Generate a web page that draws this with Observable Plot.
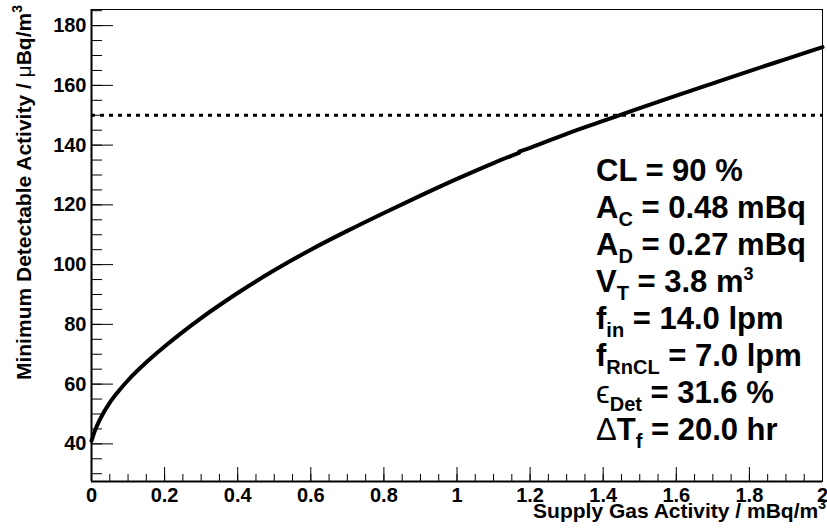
<!DOCTYPE html>
<html><head><meta charset="utf-8">
<script src="https://cdn.jsdelivr.net/npm/d3@7"></script>
<script src="https://cdn.jsdelivr.net/npm/@observablehq/plot@0.6"></script>
<style>
body{margin:0;background:#fff;overflow:hidden}
#chart svg{display:block}
svg{font-family:"Liberation Sans",Arial,Helvetica,sans-serif;font-weight:bold}
</style>
</head><body><div id="chart"></div>
<script>
// Curve data: supply gas activity (mBq/m^3) vs MDA (µBq/m^3)
const supplyActivity = [0, 0.01, 0.025, 0.05, 0.075, 0.1, 0.15, 0.2, 0.25, 0.3, 0.4, 0.5, 0.6, 0.7, 0.8, 0.9, 1.0, 1.1, 1.17,
                        1.17, 1.2, 1.3, 1.4, 1.5, 1.6, 1.7, 1.8, 1.9, 2.0];
const minDetectable = [41, 44.6, 48.6, 53.8, 57.8, 61.3, 67.3, 72.6, 77.5, 82.1, 90.5, 98.1, 105.0, 111.3, 117.3, 123.1, 128.7, 134.0, 137.4,
                       137.8, 139.1, 143.8, 148.1, 152.4, 156.6, 160.7, 164.8, 168.8, 172.8];
const segment = [1,1,1,1,1,1,1,1,1,1,1,1,1,1,1,1,1,1,1,
                 2,2,2,2,2,2,2,2,2,2];
const threshold = 150;

const xDomain = [0, 2];
const yDomain = [27.4, 185.4];
const xMajorTicks = [0, 0.2, 0.4, 0.6, 0.8, 1.0, 1.2, 1.4, 1.6, 1.8, 2.0];
const xTickLabels = ["0", "0.2", "0.4", "0.6", "0.8", "1", "1.2", "1.4", "1.6", "1.8", "2"];
const xMinorTicks = d3.range(0, 40.5, 1).map(i => i * 0.05);
const yMajorTicks = [40, 60, 80, 100, 120, 140, 160, 180];
const yTickLabels = ["40", "60", "80", "100", "120", "140", "160", "180"];
const yMinorTicks = d3.range(30, 185.1, 5);

const xTitle = "Supply Gas Activity / mBq/m";
const yTitle = "Minimum Detectable Activity / ";

// Legend lines: [main, subscript, rest, superscript]
const legendMain = ["CL = 90 %", "A", "A", "V", "f", "f", "\u03F5", "\u0394T"];
const legendSub  = ["", "C", "D", "T", "in", "RnCL", "Det", "f"];
const legendRest = ["", " = 0.48 mBq", " = 0.27 mBq", " = 3.8 m", " = 14.0 lpm", " = 7.0 lpm", " = 31.6 %", " = 20.0 hr"];
const legendSup  = ["", "", "", "3", "", "", "", ""];
const legendThinFirst = [false, false, false, false, false, false, true, true];

const data = supplyActivity.map((x, i) => ({x, y: minDetectable[i], seg: segment[i]}));

const plot = Plot.plot({
  width: 827,
  height: 531,
  marginLeft: 91,
  marginRight: 5,
  marginTop: 9,
  marginBottom: 50,
  style: {fontSize: "20px", fontWeight: "bold", fontFamily: '"Liberation Sans", Arial, sans-serif', color: "black", background: "white"},
  x: {domain: xDomain},
  y: {domain: yDomain},
  marks: [
    Plot.ruleY([threshold], {stroke: "black", strokeWidth: 3, strokeDasharray: "4,5"}),
    Plot.line(data, {x: "x", y: "y", z: "seg", stroke: "black", strokeWidth: 4, curve: "monotone-x"}),
    Plot.frame({stroke: "black", strokeWidth: 1}),
    Plot.ruleX([xDomain[0]], {stroke: "black", strokeWidth: 2}),
    Plot.ruleY([yDomain[0]], {stroke: "black", strokeWidth: 2}),
    Plot.axisY(yMinorTicks, {anchor: "left", tickSize: -11, tickFormat: () => "", label: null, stroke: "black"}),
    Plot.axisY(yMajorTicks, {anchor: "left", tickSize: -22, tickFormat: () => "", label: null, stroke: "black"}),
    Plot.axisY(yMajorTicks, {anchor: "left", tickSize: 0, tickPadding: 5, fontSize: 20, fontWeight: "bold", tickFormat: (d) => yTickLabels[yMajorTicks.indexOf(d)], label: null, fill: "black"}),
    Plot.axisX(xMinorTicks, {anchor: "bottom", tickSize: -7, tickFormat: () => "", label: null, stroke: "black"}),
    Plot.axisX(xMajorTicks, {anchor: "bottom", tickSize: -14, tickFormat: () => "", label: null, stroke: "black"}),
    Plot.axisX(xMajorTicks, {anchor: "bottom", tickSize: 0, tickPadding: 6, fontSize: 20, fontWeight: "bold", tickFormat: (d) => xTickLabels[xMajorTicks.indexOf(d)], label: null, fill: "black"})
  ]
});

document.getElementById("chart").appendChild(plot);

const svg = d3.select(plot);
// make sure tick labels use the intended size
svg.selectAll('[aria-label$="tick label"] text').style("font-size", "20px").style("font-weight", "bold");

// X title
const xt = svg.append("text").attr("x", 826).attr("y", 518).attr("text-anchor", "end")
  .attr("font-size", 21).attr("font-weight", "bold").attr("fill", "black");
xt.append("tspan").text(xTitle);
xt.append("tspan").attr("font-size", 14).attr("dy", -9).text("3");

// Y title
const yt = svg.append("text").attr("transform", "translate(31,5) rotate(-90)").attr("text-anchor", "end")
  .attr("font-size", 21).attr("font-weight", "bold").attr("fill", "black");
yt.append("tspan").text(yTitle);
yt.append("tspan").attr("font-weight", "normal").text("\u03BC");
yt.append("tspan").text("Bq/m");
yt.append("tspan").attr("font-size", 14).attr("dy", -9).text("3");

// Legend text
const leg = svg.append("g").attr("font-size", 31).attr("font-weight", "bold").attr("fill", "black").attr("text-anchor", "start");
legendMain.forEach((m, i) => {
  const t = leg.append("text").attr("x", 596).attr("y", 181 + i * 37).attr("text-anchor", "start");
  if (legendThinFirst[i]) {
    t.append("tspan").attr("font-weight", "normal").text(m[0]);
    if (m.length > 1) t.append("tspan").text(m.slice(1));
  } else {
    t.append("tspan").text(m);
  }
  if (legendSub[i]) {
    t.append("tspan").attr("font-size", 20).attr("dy", 8).text(legendSub[i]);
    t.append("tspan").attr("dy", -8).text(legendRest[i]);
  } else if (legendRest[i]) {
    t.append("tspan").text(legendRest[i]);
  }
  if (legendSup[i]) {
    t.append("tspan").attr("font-size", 18).attr("dy", -12).text(legendSup[i]);
  }
});
</script>
</body></html>
